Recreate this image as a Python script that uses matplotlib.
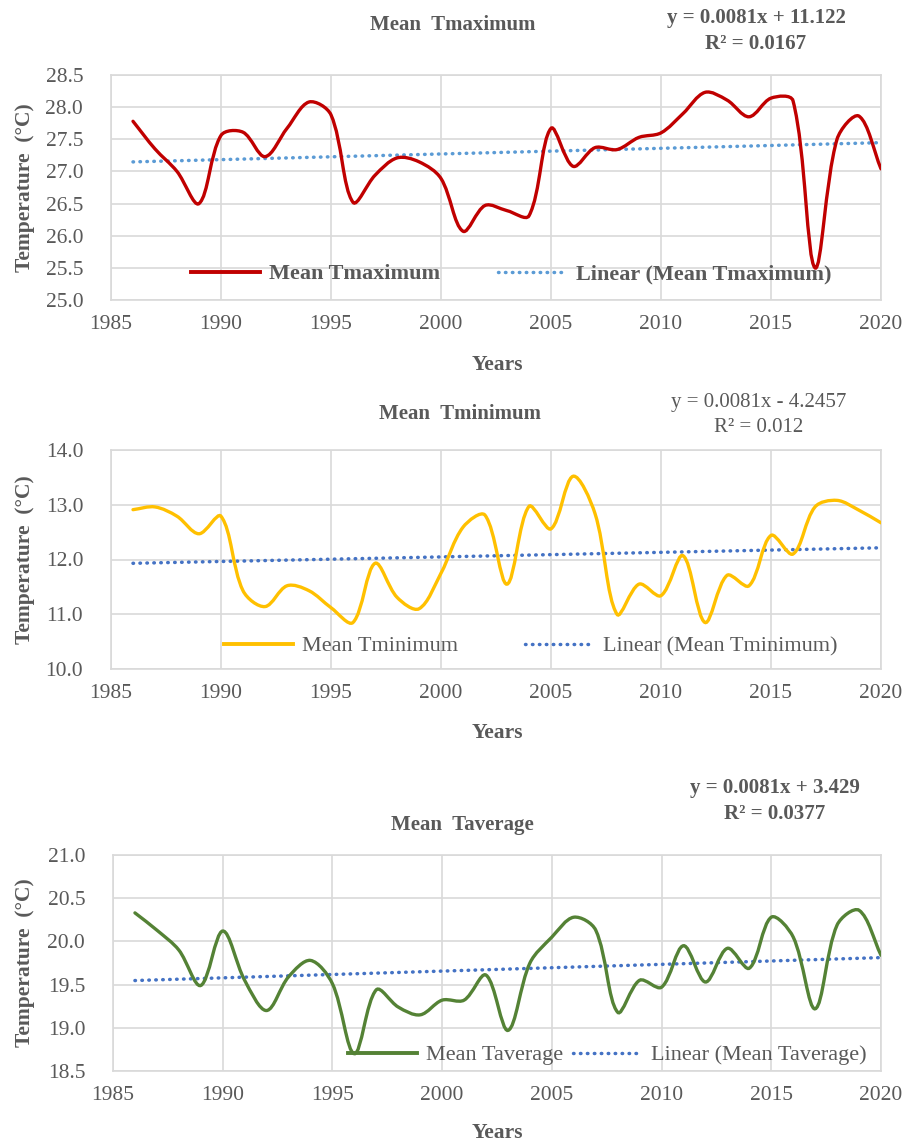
"""
Mean Tmax / Tmin / Tavg time series, 1986-2020, with linear trend lines.
"""
import numpy as np
import matplotlib
matplotlib.use('Agg')
import matplotlib.pyplot as plt
from matplotlib.path import Path
from matplotlib.patches import PathPatch
from matplotlib.lines import Line2D

years = np.arange(1986, 2021)

tmax = [27.78, 27.35, 27.00, 26.50, 27.56, 27.61, 27.23, 27.67, 28.08, 27.88,
        26.52, 26.94, 27.21, 27.15, 26.89, 26.07, 26.47, 26.39, 26.31, 27.67,
        27.08, 27.37, 27.34, 27.53, 27.60, 27.90, 28.23, 28.11, 27.85, 28.14,
        28.10, 25.50, 27.50, 27.86, 27.04]

tmin = [12.91, 12.96, 12.79, 12.47, 12.79, 11.43, 11.14, 11.52, 11.43, 11.12,
        10.85, 11.93, 11.31, 11.10, 11.75, 12.59, 12.81, 11.55, 12.97, 12.56,
        13.52, 12.84, 11.00, 11.55, 11.34, 12.07, 10.85, 11.71, 11.52, 12.44,
        12.10, 12.96, 13.08, 12.90, 12.67]

tavg = [20.33, 20.13, 19.90, 19.49, 20.12, 19.55, 19.20, 19.59, 19.78, 19.51,
        18.70, 19.44, 19.24, 19.15, 19.32, 19.32, 19.61, 18.97, 19.75, 20.05,
        20.28, 20.13, 19.18, 19.55, 19.47, 19.95, 19.53, 19.92, 19.69, 20.28,
        20.05, 19.22, 20.19, 20.36, 19.84]

titles = ["Mean  Tmaximum", "Mean  Tminimum", "Mean  Taverage"]
labels = ["Mean Tmaximum", "Mean Tminimum", "Mean Taverage"]
equations = [("y = 0.0081x + 11.122", "R\u00b2 = 0.0167"),
             ("y = 0.0081x - 4.2457", "R\u00b2 = 0.012"),
             ("y = 0.0081x + 3.429", "R\u00b2 = 0.0377")]
ylims = [(25.0, 28.5), (10.0, 14.0), (18.5, 21.0)]
yticks = [np.arange(25.0, 28.51, 0.5), np.arange(10.0, 14.01, 1.0),
          np.arange(18.5, 21.01, 0.5)]
colors = ["#C00000", "#FFC000", "#548235"]
trend_colors = ["#5B9BD5", "#4472C4", "#4472C4"]

W, H = 917, 1147
TXT = "#595959"
FONT = "Liberation Serif"
plt.rcParams['font.family'] = [FONT, 'DejaVu Serif']
DOTS = (0, (0.15, 1.85))
DOT_LW = 2.5


def fx(px):
    return px / W


def fy(py):
    return 1 - py / H


def smooth_path(ax, x, y):
    """Excel-like smoothed line: cubic Bezier segments, control arms
    scaled by the neighbouring segment lengths in display space."""
    pts = ax.transData.transform(np.column_stack([x, y]))
    n = len(pts)
    d = np.hypot(*np.diff(pts, axis=0).T)
    tang = np.zeros_like(pts)
    tang[1:-1] = pts[2:] - pts[:-2]
    verts = [pts[0]]
    codes = [Path.MOVETO]
    for i in range(n - 1):
        if i == 0:
            c1 = pts[0] + (pts[1] - pts[0]) / 3
        else:
            c1 = pts[i] + tang[i] * d[i] / (d[i - 1] + d[i]) / 3
        if i == n - 2:
            c2 = pts[i + 1] - (pts[i + 1] - pts[i]) / 3
        else:
            c2 = pts[i + 1] - tang[i + 1] * d[i] / (d[i] + d[i + 1]) / 3
        verts += [c1, c2, pts[i + 1]]
        codes += [Path.CURVE4] * 3
    verts = ax.transData.inverted().transform(np.array(verts))
    return Path(verts, codes)


# axes boxes in pixels: left, top, right, bottom
boxes = [(111, 75, 881, 300), (111, 450, 881, 669), (113, 855, 881, 1071)]
title_pos = [(453, 25), (460, 414), (462, 825)]
eq_pos = [(756, 18, 44), (759, 403, 428), (775, 788, 814)]
eq_bold = [True, False, True]
legend_bold = [True, False, False]
legend_anchor = [(0.52, 0.115), (0.545, 0.105), (0.644, 0.074)]
legend_colspace = [2.6, 3.0, 0.45]
xlabel_y = [365, 733, 1133]

fig = plt.figure(figsize=(W / 100, H / 100), dpi=100)

series = [tmax, tmin, tavg]
for k in range(3):
    l, t, r, b = boxes[k]
    ax = fig.add_axes([fx(l), fy(b), fx(r - l), (b - t) / H])
    vals = np.array(series[k])

    ax.set_xlim(1985, 2020)
    ax.set_ylim(*ylims[k])

    ax.add_patch(PathPatch(smooth_path(ax, years, vals), facecolor='none',
                           edgecolor=colors[k], lw=2.4, capstyle='round',
                           zorder=3))

    coef = np.polyfit(years, vals, 1)
    ax.plot(years, np.polyval(coef, years), color=trend_colors[k], lw=DOT_LW,
            linestyle=DOTS, dash_capstyle='round', zorder=2)

    ax.set_xticks(np.arange(1985, 2021, 5))
    ax.set_yticks(yticks[k])
    ax.set_yticklabels([f"{v:.1f}" for v in yticks[k]])
    ax.grid(True, color="#D9D9D9", lw=1.2)
    ax.set_axisbelow(True)
    for sp in ax.spines.values():
        sp.set_color("#D9D9D9")
        sp.set_linewidth(1.2)
    ax.tick_params(length=0, labelsize=15.5, labelcolor=TXT)
    ax.tick_params(axis='y', pad=20)
    ax.tick_params(axis='x', pad=11)

    handles = [Line2D([], [], color=colors[k], lw=2.8),
               Line2D([], [], color=trend_colors[k], lw=DOT_LW,
                      linestyle=DOTS, dash_capstyle='round')]
    leg = ax.legend(handles, [labels[k], f"Linear ({labels[k]})"],
                    loc='center', bbox_to_anchor=legend_anchor[k], ncol=2,
                    frameon=False, handlelength=3.1, handletextpad=0.4,
                    columnspacing=legend_colspace[k],
                    prop={'family': FONT, 'size': 16,
                          'weight': 'bold' if legend_bold[k] else 'normal'})
    for txt in leg.get_texts():
        txt.set_color(TXT)

    # titles, equations and axis labels
    tx, ty = title_pos[k]
    fig.text(fx(tx), fy(ty), titles[k], ha='center', va='center',
             fontsize=15, fontweight='bold', color=TXT)
    ex, ey1, ey2 = eq_pos[k]
    w = 'bold' if eq_bold[k] else 'normal'
    fig.text(fx(ex), fy(ey1), equations[k][0], ha='center', va='center',
             fontsize=15, fontweight=w, color=TXT)
    fig.text(fx(ex), fy(ey2), equations[k][1], ha='center', va='center',
             fontsize=15, fontweight=w, color=TXT)
    fig.text(fx(497), fy(xlabel_y[k]), "Years", ha='center', va='center',
             fontsize=15.5, fontweight='bold', color=TXT)
    fig.text(fx(25), fy((t + b) / 2), "Temperature  (\u00b0C)", ha='center',
             va='center', rotation=90, fontsize=15.5, fontweight='bold',
             color=TXT)

fig.savefig("out.png", dpi=100)
